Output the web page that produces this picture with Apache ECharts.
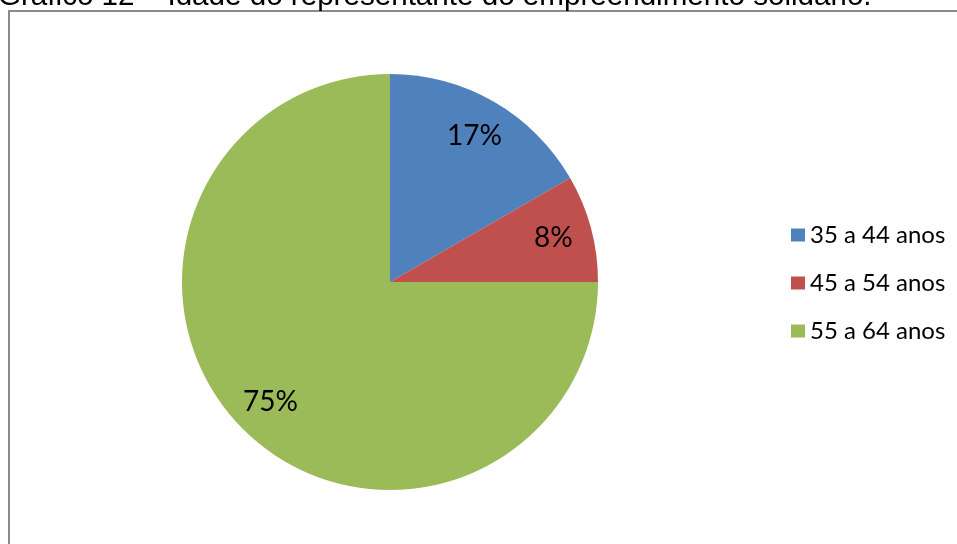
<!DOCTYPE html>
<html>
<head>
<meta charset="utf-8">
<script src="https://cdn.jsdelivr.net/npm/echarts@6/dist/echarts.min.js"></script>
<style>
  html, body { margin: 0; padding: 0; background: #ffffff; }
  #chart { width: 957px; height: 544px; }
</style>
</head>
<body>
<div id="chart"></div>
<script>
// Age groups of the solidarity enterprise representatives
const categories = ['35 a 44 anos', '45 a 54 anos', '55 a 64 anos'];
const counts = [2, 1, 9];
const colors = ['#4F81BD', '#C0504D', '#9BBB59'];
const titleText = 'Gráfico 12 – Idade do representante do empreendimento solidário.';

const pieData = categories.map((name, i) => ({
  name: name,
  value: counts[i],
  itemStyle: { color: colors[i] }
}));

const chart = echarts.init(document.getElementById('chart'), null, { renderer: 'canvas' });

const center = [390, 282];
const outerR = 208;

chart.setOption({
  animation: false,
  backgroundColor: '#ffffff',
  graphic: [
    {
      type: 'rect',
      shape: { x: 9, y: 11, width: 1000, height: 600 },
      style: { fill: 'none', stroke: '#8a8a8a', lineWidth: 2 },
      z: 0
    },
    {
      type: 'text',
      left: -2,
      top: -18,
      style: {
        text: titleText,
        font: '29.6px "Liberation Sans", Arial, sans-serif',
        fill: '#000000'
      },
      z: 10
    }
  ],
  legend: {
    orient: 'vertical',
    left: 786,
    top: 218,
    itemWidth: 14,
    itemHeight: 13,
    itemGap: 24,
    icon: 'rect',
    selectedMode: false,
    data: categories,
    textStyle: {
      fontFamily: 'Lato, "Open Sans", sans-serif',
      fontSize: 24,
      color: '#000000'
    }
  },
  series: [
    {
      type: 'pie',
      center: center,
      radius: [0, outerR],
      startAngle: 90,
      clockwise: true,
      percentPrecision: 0,
      silent: true,
      label: { show: false },
      labelLine: { show: false },
      itemStyle: { borderWidth: 0 },
      data: pieData
    },
    {
      // transparent ring used only to place the percentage labels
      type: 'pie',
      center: center,
      radius: [124, outerR],
      startAngle: 90,
      clockwise: true,
      percentPrecision: 0,
      silent: true,
      itemStyle: { color: 'rgba(0,0,0,0)' },
      label: {
        show: true,
        position: 'inside',
        formatter: '{d}%',
        fontFamily: 'Lato, "Open Sans", sans-serif',
        fontSize: 28,
        color: '#000000'
      },
      labelLine: { show: false },
      data: categories.map((name, i) => ({ name: name, value: counts[i] }))
    }
  ]
});
</script>
</body>
</html>
